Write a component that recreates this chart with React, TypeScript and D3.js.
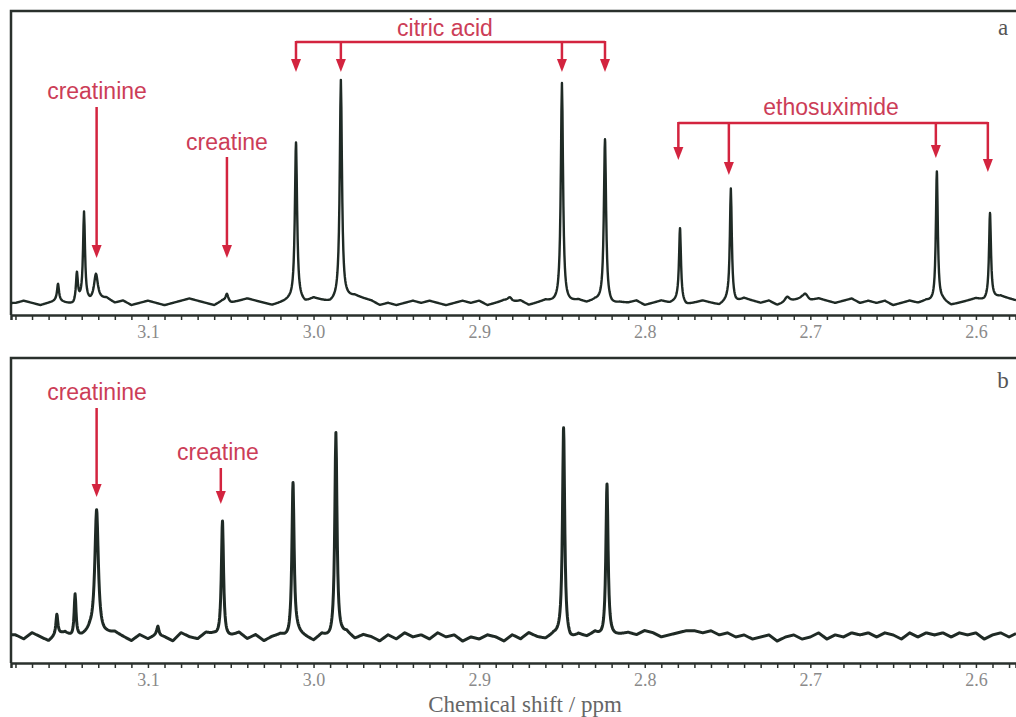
import React, { useEffect, useRef } from 'react';
import * as d3 from 'd3';

// axis
const majorTicks = [3.1, 3.0, 2.9, 2.8, 2.7, 2.6];
const tickLabels = ['3.1', '3.0', '2.9', '2.8', '2.7', '2.6'];
const minorTicks = d3.range(258, 319).map((i) => i / 100);
const axisTitle = 'Chemical shift / ppm';

// spectrum a (drug-containing urine)
const peaksAppm = [3.1543, 3.1429, 3.1386, 3.1314, 3.0523, 3.0106, 2.9835, 2.8814, 2.85, 2.824, 2.7787, 2.748, 2.714, 2.703, 2.6236, 2.5915];
const peaksAheight = [7.6, 13, 39.5, 12, 3.6, 70.9, 98.7, 2.2, 99.6, 73.5, 33, 50.7, 2.5, 2.5, 58.7, 38.6];
const peaksAwidth = [0.0007, 0.0007, 0.0007, 0.0014, 0.001, 0.0008, 0.0008, 0.0018, 0.0008, 0.0008, 0.0007, 0.0007, 0.0018, 0.0018, 0.0007, 0.0007];
const baselineA = [0, 1, 0, -1, 0, 1, 0, -1, 1, 0, 1, 2, 0, 1, -1, 0, 1, 0, -1, 0, 1, 2, 1, 0, -1, 1, 0, 1, 2, 1, 0, -1, 0, 1, 1, 0, 2, 1, 0, 1, 2, 3, 2, 1, -1, 0, -1, 0, 1, 0, 1, 0, -1, 0, 1, 0, 1, -1, 0, 1, 0, 1, -1, 0, 1, 0, -1, 0, 1, 0, 1, 0, -1, 0, 0, 1, -1, 0, 1, 0, 1, -1, 0, 1, 0, -1, 1, 0, 2, 1, 0, 1, -1, 0, 1, 2, 1, 2, 1, 0, 1, 2, 0, 1, 0, 1, -1, 0, 1, 0, 1, 0, 1, -1, 0, 1, 2, 1, 2, 3, 2, 1];

// spectrum b (control urine)
const peaksBppm = [3.155, 3.144, 3.131, 3.094, 3.055, 3.0124, 2.9865, 2.849, 2.8228];
const peaksBheight = [9.7, 21, 61.8, 4.3, 58, 73.9, 99, 101.4, 74.4];
const peaksBwidth = [0.0007, 0.0007, 0.0013, 0.0007, 0.0008, 0.0008, 0.0008, 0.0008, 0.0008];
const baselineB = [1, -1, 2, 0, -2, 1, 2, -1, 0, 2, -1, 1, 2, 0, -2, 1, -1, 1, 0, -2, 2, 0, -1, 2, 1, -2, 0, 2, -1, 1, -2, 0, 1, -1, 2, 0, -2, 1, -1, 0, 2, -1, 1, 0, -2, 1, -1, 2, 0, 1, -1, 2, 0, 1, -2, 0, -1, 1, 0, -2, 1, -1, 2, 0, -1, 1, 0, -2, 1, 0, 2, -1, 0, 1, 2, 1, 3, 2, 0, 1, 2, 3, 3, 2, 3, 1, 2, 0, 1, -1, 0, 1, -2, 0, 1, -1, 0, 2, -1, 1, 0, 2, 1, 2, 0, 2, 1, -1, 2, 0, 2, 1, 2, 0, 2, 1, 2, -1, 1, 2, 0, 2];
const baselineGrid = d3.range(122).map((i) => 3.18 - i * 0.005);

// assignments
const citricPpm = [3.0106, 2.9835, 2.85, 2.824];
const ethosuximidePpm = [2.7797, 2.7492, 2.6242, 2.5928];
const creatininePpm = 3.131;
const creatineApm = 3.0523;
const creatineBppm = 3.056;

const RED = '#d3243f';
const RED_TEXT = '#cc3d57';
const INK = '#1f2a25';

const App = () => {
  const ref = useRef<SVGSVGElement>(null);

  useEffect(() => {
    if (!ref.current) return;
    const svg = d3.select(ref.current);
    svg.selectAll('*').remove();

    const x = d3.scaleLinear().domain([3.1827, 2.5758]).range([11, 1016]);

    const spectrum = (ppm: number[], h: number[], w: number[], base: number[]) => {
      const bl = d3.scaleLinear<number, number>().domain(baselineGrid).range(base).clamp(true);
      const xs = d3.range(2.5758, 3.1827, 0.0003).concat(ppm).sort((a, b) => a - b);
      return xs.map((p) => {
        let v = bl(p);
        ppm.forEach((c, i) => {
          const t = (p - c) / w[i];
          v += h[i] / (1 + t * t);
        });
        return [p, v] as [number, number];
      });
    };

    const arrow = (g: any, px: number, y0: number, tip: number) => {
      g.append('line')
        .attr('x1', px).attr('x2', px)
        .attr('y1', y0).attr('y2', tip - 8)
        .attr('stroke', RED).attr('stroke-width', 2.5);
      g.append('path')
        .attr('d', `M${px - 5},${tip - 13} L${px + 5},${tip - 13} L${px},${tip} Z`)
        .attr('fill', RED);
    };

    const label = (g: any, text: string, cx: number, by: number) => {
      g.append('text')
        .attr('x', cx).attr('y', by)
        .attr('text-anchor', 'middle')
        .attr('font-family', 'Liberation Sans, Arial, sans-serif')
        .attr('font-size', 23)
        .attr('fill', RED_TEXT)
        .text(text);
    };

    const panel = (top: number, axisY: number, baseY: number, fullY: number, data: [number, number][], tag: string, tagY: number) => {
      const y = d3.scaleLinear().domain([0, 100]).range([baseY, fullY]);
      const g = svg.append('g');

      // frame: top and left edges
      g.append('path')
        .attr('d', `M1016,${top} L11,${top} L11,${axisY}`)
        .attr('fill', 'none').attr('stroke', '#2a302c').attr('stroke-width', 2.5);

      const axis = d3.axisBottom(x)
        .tickValues(minorTicks)
        .tickSizeOuter(0)
        .tickSize(5)
        .tickPadding(5)
        .tickFormat((d: any) => {
          const i = majorTicks.findIndex((m) => Math.abs(m - d) < 1e-6);
          return i >= 0 ? tickLabels[i] : '';
        });
      const ax = g.append('g').attr('transform', `translate(0,${axisY})`).call(axis);
      ax.select('.domain').attr('stroke', '#2a302c').attr('stroke-width', 2.5);
      ax.selectAll('.tick line').attr('stroke', '#2a302c').attr('stroke-width', 1.5);
      ax.selectAll('.tick text')
        .attr('font-family', 'Liberation Serif, Times New Roman, serif')
        .attr('font-size', 18)
        .attr('fill', '#8a8a8a');

      const line = d3.line<[number, number]>().x((d) => x(d[0])).y((d) => y(d[1]));
      g.append('path')
        .datum(data)
        .attr('d', line)
        .attr('fill', 'none')
        .attr('stroke', INK)
        .attr('stroke-width', tag === 'a' ? 2.4 : 3)
        .attr('stroke-linejoin', 'round');

      g.append('text')
        .attr('x', 1003).attr('y', tagY)
        .attr('text-anchor', 'middle')
        .attr('font-family', 'Liberation Serif, Times New Roman, serif')
        .attr('font-size', 23)
        .attr('fill', '#555')
        .text(tag);
      return g;
    };

    // panel a
    const ga = panel(11, 315, 303, 80, spectrum(peaksAppm, peaksAheight, peaksAwidth, baselineA), 'a', 35);
    label(ga, 'creatinine', 97, 99);
    arrow(ga, x(creatininePpm), 107, 258);
    label(ga, 'creatine', 227, 150);
    arrow(ga, x(creatineApm), 157, 258);

    const citricTips = [72, 72, 72, 72];
    ga.append('line')
      .attr('x1', x(citricPpm[0])).attr('x2', x(citricPpm[3]))
      .attr('y1', 42).attr('y2', 42)
      .attr('stroke', RED).attr('stroke-width', 2.5);
    citricPpm.forEach((p, i) => arrow(ga, x(p), 41, citricTips[i]));
    label(ga, 'citric acid', 445, 36);

    const ethoTips = [160, 175, 158, 172];
    ga.append('line')
      .attr('x1', x(ethosuximidePpm[0])).attr('x2', x(ethosuximidePpm[3]))
      .attr('y1', 123).attr('y2', 123)
      .attr('stroke', RED).attr('stroke-width', 2.5);
    ethosuximidePpm.forEach((p, i) => arrow(ga, x(p), 122, ethoTips[i]));
    label(ga, 'ethosuximide', 831, 115);

    // panel b
    const gb = panel(358, 663, 637, 430, spectrum(peaksBppm, peaksBheight, peaksBwidth, baselineB), 'b', 388);
    label(gb, 'creatinine', 97, 400);
    arrow(gb, x(creatininePpm), 408, 497);
    label(gb, 'creatine', 218, 460);
    arrow(gb, x(creatineBppm), 468, 504);

    svg.append('text')
      .attr('x', 525).attr('y', 712)
      .attr('text-anchor', 'middle')
      .attr('font-family', 'Liberation Serif, Times New Roman, serif')
      .attr('font-size', 23)
      .attr('fill', '#666')
      .text(axisTitle);
  }, []);

  return (
    <svg
      ref={ref}
      width={1016}
      height={717}
      style={{ position: 'absolute', left: 0, top: 0, background: '#fff' }}
    />
  );
};

export default App;
